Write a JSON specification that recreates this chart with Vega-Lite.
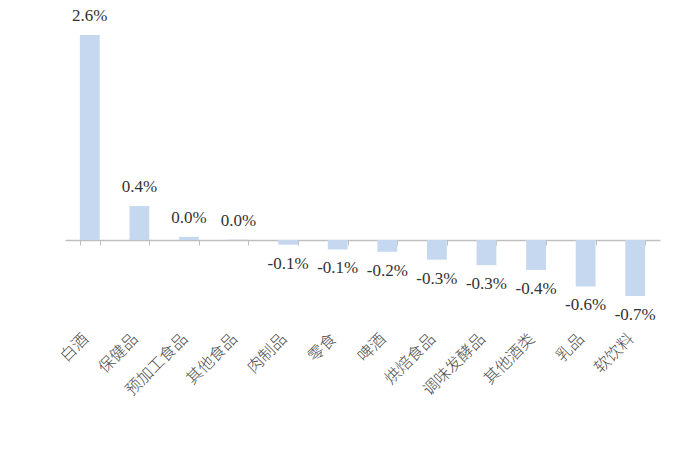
{
  "$schema": "https://vega.github.io/schema/vega-lite/v6.json",
  "autosize": {"type": "none"},
  "padding": {"left": 65, "top": 35, "right": 40, "bottom": 129},
  "width": 595,
  "height": 285,
  "background": "white",
  "config": {"view": {"stroke": null}},
  "data": {"values": [
    {"cat": "白酒", "v": 2.6, "label": "2.6%"},
    {"cat": "保健品", "v": 0.43, "label": "0.4%"},
    {"cat": "预加工食品", "v": 0.04, "label": "0.0%"},
    {"cat": "其他食品", "v": 0.005, "label": "0.0%"},
    {"cat": "肉制品", "v": -0.06, "label": "-0.1%"},
    {"cat": "零食", "v": -0.12, "label": "-0.1%"},
    {"cat": "啤酒", "v": -0.15, "label": "-0.2%"},
    {"cat": "烘焙食品", "v": -0.25, "label": "-0.3%"},
    {"cat": "调味发酵品", "v": -0.32, "label": "-0.3%"},
    {"cat": "其他酒类", "v": -0.38, "label": "-0.4%"},
    {"cat": "乳品", "v": -0.59, "label": "-0.6%"},
    {"cat": "软饮料", "v": -0.71, "label": "-0.7%"}
  ]},
  "encoding": {
    "x": {"field": "cat", "type": "nominal", "sort": null,
          "scale": {"paddingInner": 0.6, "paddingOuter": 0.3}},
    "y": {"field": "v", "type": "quantitative",
          "scale": {"domain": [-1.015, 2.6], "nice": false, "zero": false},
          "axis": null}
  },
  "layer": [
    {
      "mark": {"type": "bar", "color": "#c6d8f0"},
      "encoding": {
        "x": {"field": "cat", "type": "nominal", "sort": null,
              "axis": {"title": null, "orient": "bottom", "domain": false, "ticks": false,
                       "labelAngle": -45, "labelAlign": "right", "labelBaseline": "middle",
                       "labelPadding": 16, "labelOffset": -4, "labelFont": "Noto Sans CJK SC", "labelFontWeight": 300,
                       "labelFontSize": 16, "labelColor": "#4d4d4d"}}
      }
    },
    {
      "transform": [{"filter": "datum.v >= 0"}],
      "mark": {"type": "text", "baseline": "middle", "dy": -19,
               "font": "Liberation Serif", "fontSize": 17, "color": "#333333"},
      "encoding": {
        "text": {"field": "label"},
        "x": {"field": "cat", "type": "nominal", "sort": null,
              "axis": {"title": null, "orient": "bottom", "labels": false, "domain": true, "domainColor": "#bfbfbf",
                       "domainWidth": 1.5, "ticks": true, "tickColor": "#bfbfbf", "tickSize": 5,
                       "tickBand": "extent", "offset": -80, "grid": false}}
      }
    },
    {
      "transform": [{"filter": "datum.v < 0"}],
      "mark": {"type": "text", "baseline": "middle", "dy": 19,
               "font": "Liberation Serif", "fontSize": 17, "color": "#333333"},
      "encoding": {
        "text": {"field": "label"},
        "x": {"field": "cat", "type": "nominal", "sort": null, "axis": null}
      }
    }
  ],
  "resolve": {"axis": {"x": "independent"}}
}
